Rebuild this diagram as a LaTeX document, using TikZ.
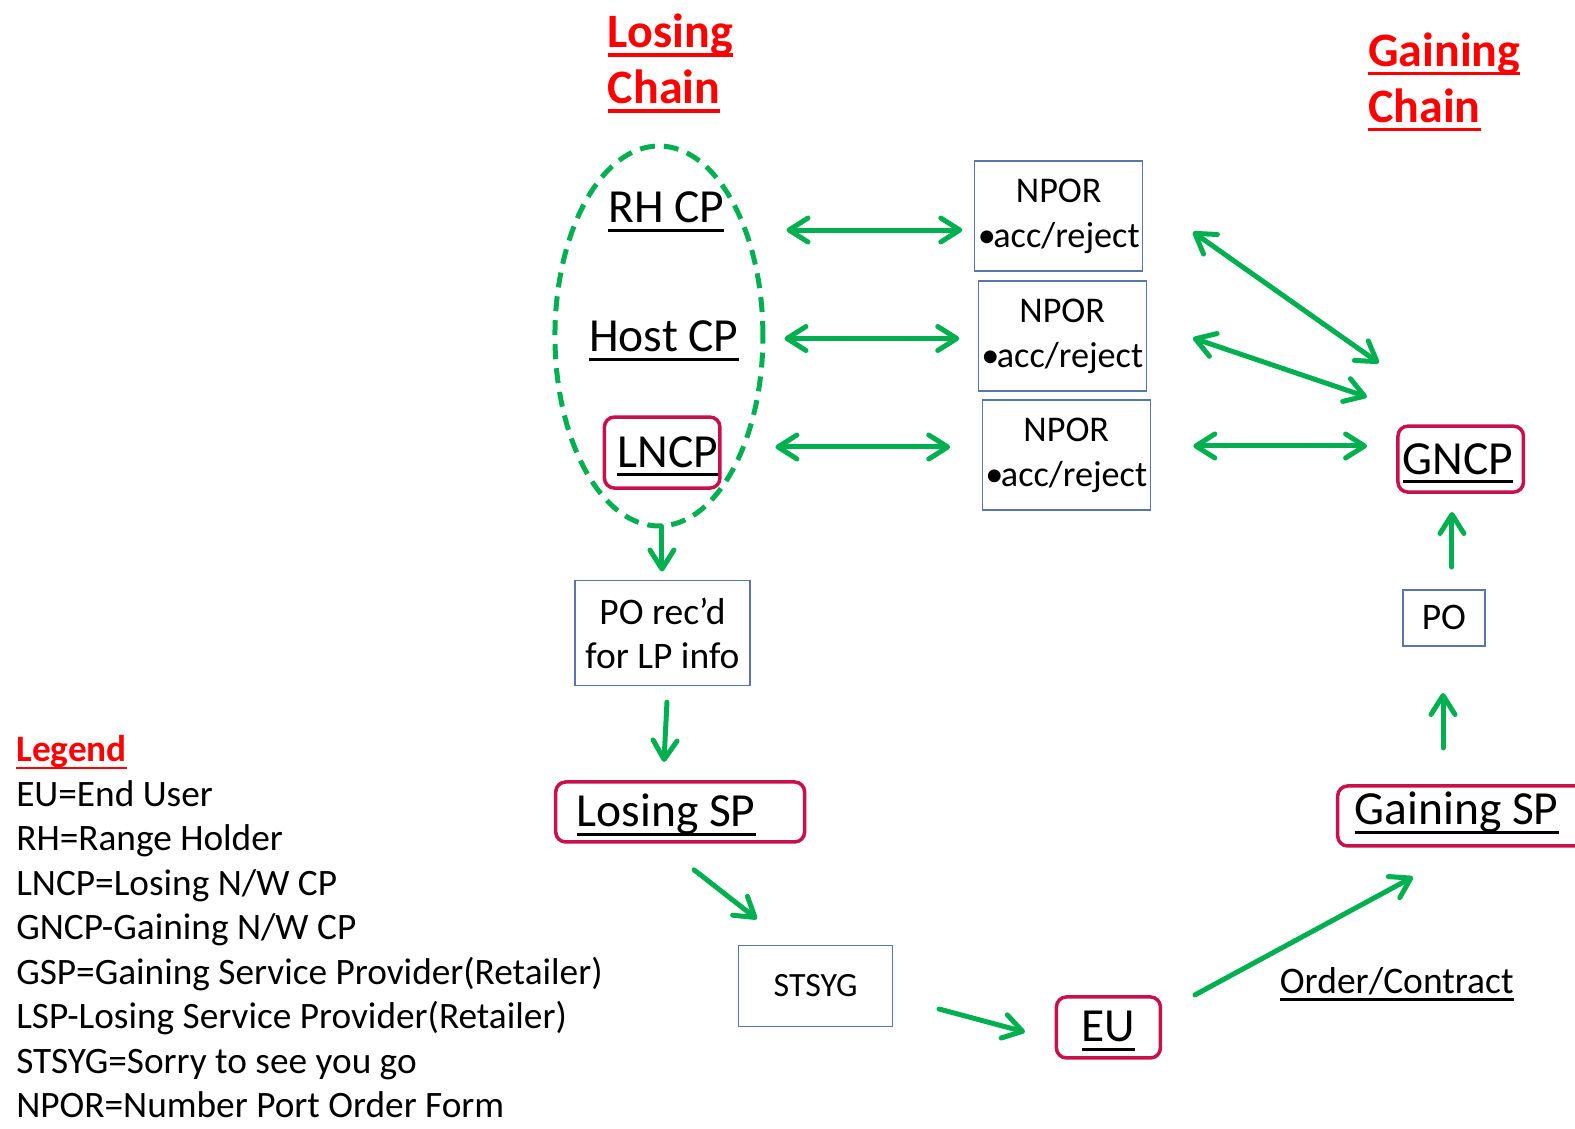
\documentclass[tikz,border=0pt]{standalone}
\usepackage{fontspec}
\setmainfont{Carlito}
\usetikzlibrary{arrows.meta,shapes.geometric}
\definecolor{pgreen}{HTML}{00B050}
\definecolor{pred}{HTML}{FF0000}
\definecolor{pcrim}{HTML}{C8104A}
\definecolor{pblue}{HTML}{5A76A8}
\newcommand\ulx[1]{\setbox0\hbox{#1}\rlap{\rule[-0.19em]{\wd0}{0.065em}}\box0}
\begin{document}
\begin{tikzpicture}[x=1.0045pt,y=-1.0045pt,
  big/.style={font=\fontsize{47.5}{52}\selectfont, inner sep=0pt},
  mid/.style={font=\fontsize{37.5}{44}\selectfont, inner sep=0pt},
  npor/.style={bbox, font=\fontsize{36.2}{45}\selectfont, align=center, inner sep=0pt, minimum width=168pt, minimum height=110pt},
  ttl/.style={font=\fontsize{48}{56}\selectfont\bfseries, text=pred, inner sep=0pt, align=left},
  rbox/.style={draw=pcrim, line width=3.5pt, rounded corners=10pt},
  bbox/.style={draw=pblue, line width=1.3pt},
  tip/.tip={Straight Barb[length=19pt,width=24pt,round]},
  arr/.style={draw=pgreen, line width=5pt, line cap=round, -tip},
  dbl/.style={draw=pgreen, line width=5pt, line cap=round, tip-tip},
  ell/.style={draw=pgreen, line width=5pt, dash pattern=on 15pt off 9pt}]
\useasboundingbox (0,0) rectangle (1568,1123);
\clip (0,0) rectangle (1568,1123);

% titles (base anchor = last line)
\node[ttl, anchor=base west] (losing) at (605,103) {\ulx{Losing}\\\ulx{Chain}};
\node[ttl, anchor=base west] (gaining) at (1362,121.5) {\ulx{Gaining}\\\ulx{Chain}};

% losing chain ellipse
\node[ell, ellipse, minimum width=208pt, minimum height=380pt, inner sep=0pt] (chain) at (656,334.5) {};
\node[big, anchor=base] (rh) at (663.5,222) {\ulx{RH CP}};
\node[big, anchor=base] (host) at (661,350) {\ulx{Host CP}};
\node[big, rbox, anchor=base west, text height=50pt, text depth=21pt] (lncp) at (600,465) {\hspace*{13pt}\ulx{LNCP}\hspace*{2pt}};

% NPOR boxes
\node[npor] (n1) at (1054,215) {NPOR\\•\kern-2.5pt acc/reject};
\node[npor] (n2) at (1057.5,334.5) {NPOR\\•\kern-2.5pt acc/reject};
\node[npor] (n3) at (1061.5,453) {NPOR\\•\kern-2.5pt acc/reject};

% gaining side
\node[big, rbox, anchor=base west, text height=48pt, text depth=18pt] (gncp) at (1390,472) {\hspace*{5pt}\ulx{GNCP}\hspace*{10pt}};
\node[bbox, mid, minimum width=82pt, minimum height=56pt] (po) at (1437.5,615.2) {PO};
\node[big, rbox, anchor=base west, text height=39pt, text depth=21pt] (gsp) at (1330,821.3) {\hspace*{17pt}\ulx{Gaining SP}\hspace*{40pt}};

% losing side lower
\node[bbox, font=\fontsize{37.5}{44}\selectfont, align=center, inner sep=0pt, minimum width=175pt, minimum height=105pt] (porecd) at (659.5,630.5) {PO rec’d\\for LP info};
\node[big, rbox, anchor=base west, text height=45pt, text depth=15pt] (lsp) at (551.5,823.3) {\hspace*{21pt}\ulx{Losing SP}\hspace*{49pt}};
\node[bbox, font=\fontsize{34}{40}\selectfont, inner sep=0pt, minimum width=154pt, minimum height=81.5pt] (stsyg) at (812,981.6) {STSYG};
\node[big, rbox, anchor=base, minimum width=104pt, text height=45pt, text depth=16pt] (eu) at (1103.5,1037.3) {\ulx{EU}};
\node[mid, anchor=base west] (order) at (1274,989) {\ulx{Order/Contract}};

% legend (base anchor = last line)
\node[font=\fontsize{37.3}{44.5}\selectfont, inner sep=0pt, align=left, anchor=base west] (legend) at (16,1113)
 {{\color{pred}\bfseries\ulx{Legend}}\\
  EU=End User\\
  RH=Range Holder\\
  LNCP=Losing N/W CP\\
  GNCP-Gaining N/W CP\\
  GSP=Gaining Service Provider(Retailer)\\
  LSP-Losing Service Provider(Retailer)\\
  STSYG=Sorry to see you go\\
  NPOR=Number Port Order Form};

% arrow end coordinates
\coordinate (a1l) at (783,229);  \coordinate (a1r) at (958,229);
\coordinate (a2l) at (781,337);  \coordinate (a2r) at (955,337);
\coordinate (a3l) at (772,445);  \coordinate (a3r) at (946,445);
\coordinate (b1l) at (1187.6,230.9); \coordinate (b1r) at (1372.8,361.4);
\coordinate (b2l) at (1187.6,336.5); \coordinate (b2r) at (1360.8,395.2);
\coordinate (b3l) at (1188,444);  \coordinate (b3r) at (1361,444);

\draw[dbl] (a1l) -- (a1r);
\draw[dbl] (a2l) -- (a2r);
\draw[dbl] (a3l) -- (a3r);
\draw[dbl] (b1l) -- (b1r);
\draw[dbl] (b2l) -- (b2r);
\draw[dbl] (b3l) -- (b3r);

\coordinate (c1s) at (659,524);   \coordinate (c1e) at (659,569);
\coordinate (c2s) at (664,699);   \coordinate (c2e) at (661,758.6);
\coordinate (c3s) at (691,866);   \coordinate (c3e) at (753.6,914.9);
\coordinate (c4s) at (934.8,1004.5); \coordinate (c4e) at (1020.4,1027.4);
\coordinate (c5s) at (1189.6,990.5); \coordinate (c5e) at (1406.7,873);
\coordinate (u1s) at (1445.5,564.5); \coordinate (u1e) at (1445.5,509.7);
\coordinate (u2s) at (1436.6,744.6); \coordinate (u2e) at (1436.6,689.9);

\draw[arr] (c1s) -- (c1e);
\draw[arr] (c2s) -- (c2e);
\draw[arr] (c3s) -- (c3e);
\draw[arr] (c4s) -- (c4e);
\draw[arr] (c5s) -- (c5e);
\draw[arr] (u1s) -- (u1e);
\draw[arr] (u2s) -- (u2e);
\end{tikzpicture}
\end{document}
